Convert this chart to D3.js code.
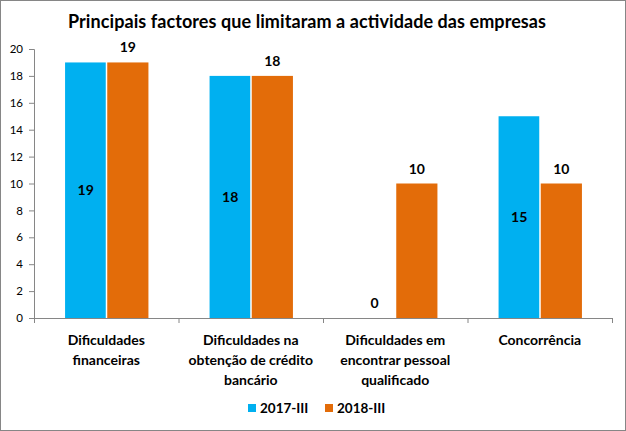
<!DOCTYPE html>
<html><head><meta charset="utf-8">
<script src="https://cdn.jsdelivr.net/npm/d3@7"></script>
<style>body{margin:0;background:#fff}svg{display:block}text{font-family:Lato,"Open Sans",sans-serif}</style>
</head><body><svg id="c" width="626" height="431"></svg>
<script>
const categories = [["Dificuldades","financeiras"],["Dificuldades na","obtenção de crédito","bancário"],["Dificuldades em","encontrar pessoal","qualificado"],["Concorrência"]];
const seriesNames = ["2017-III","2018-III"];
const values2017 = [19,18,0,15];
const values2018 = [19,18,10,10];
const yTicks = [0,2,4,6,8,10,12,14,16,18,20];
const colors = ["#00B0F0","#E36C09"];
const title = "Principais factores que limitaram a actividade das empresas";

(function(){
const svg = d3.select("#c");
svg.append("rect").attr("x",0.5).attr("y",0.5).attr("width",625).attr("height",430).attr("fill","#fff").attr("stroke","#868686");
svg.append("text").attr("x",307).attr("y",28).attr("text-anchor","middle").attr("font-size",18).attr("font-weight","bold").attr("fill","#000").attr("textLength",478).text(title);

const pl=34,pr=612,pt=49,pb=318;
const y=d3.scaleLinear().domain([0,20]).range([pb,pt]);
const x0=d3.scaleBand().domain(d3.range(categories.length)).range([pl,pr]).paddingInner(0.43).paddingOuter(0.215);
const x1=d3.scaleBand().domain([0,1]).range([0,x0.bandwidth()]);

const ya=svg.append("g").attr("transform",`translate(${pl},0)`).call(d3.axisLeft(y).tickValues(yTicks).tickSize(5).tickPadding(6));
ya.selectAll("text").attr("font-size",11.5).attr("fill","#000");
ya.selectAll("line,path").attr("stroke","#868686");

const xb=d3.scaleLinear().domain([0,4]).range([pl,pr]);
const xa=svg.append("g").attr("transform",`translate(0,${pb})`).call(d3.axisBottom(xb).tickValues([0,1,2,3,4]).tickSize(5).tickFormat(""));
xa.selectAll("line,path").attr("stroke","#868686");

const series=[values2017,values2018];
series.forEach((vals,si)=>{
  const g=svg.append("g");
  g.selectAll("rect").data(vals).join("rect")
    .attr("x",(d,i)=>x0(i)+x1(si)+(si===1?1:0))
    .attr("width",x1.bandwidth()-(si===0?0.5:0))
    .attr("y",d=>y(d)).attr("height",d=>pb-y(d)).attr("fill",colors[si]);
  g.selectAll("text").data(vals).join("text")
    .attr("x",(d,i)=>x0(i)+x1(si)+x1.bandwidth()/2+(si===1?1:0))
    .attr("y",d=> si===0 ? (d===0 ? y(0)-10 : y(d/2)+5) : y(d)-10)
    .attr("text-anchor","middle").attr("font-size",14).attr("font-weight","bold").attr("fill","#000")
    .text(d=>d);
});

categories.forEach((lines,i)=>{
  const cx=x0(i)+x0.bandwidth()/2;
  const t=svg.append("text").attr("text-anchor","middle").attr("font-size",14).attr("font-weight","bold").attr("fill","#000");
  lines.forEach((l,k)=>t.append("tspan").attr("x",cx).attr("y",345+k*20).text(l));
});

const lg=svg.append("g");
const lx=[248,325];
seriesNames.forEach((n,i)=>{
  lg.append("rect").attr("x",lx[i]).attr("y",404).attr("width",8).attr("height",8).attr("fill",colors[i]);
  lg.append("text").attr("x",lx[i]+12).attr("y",413).attr("font-size",13.5).attr("font-weight","bold").attr("fill","#000").text(n);
});
})();
</script></body></html>
